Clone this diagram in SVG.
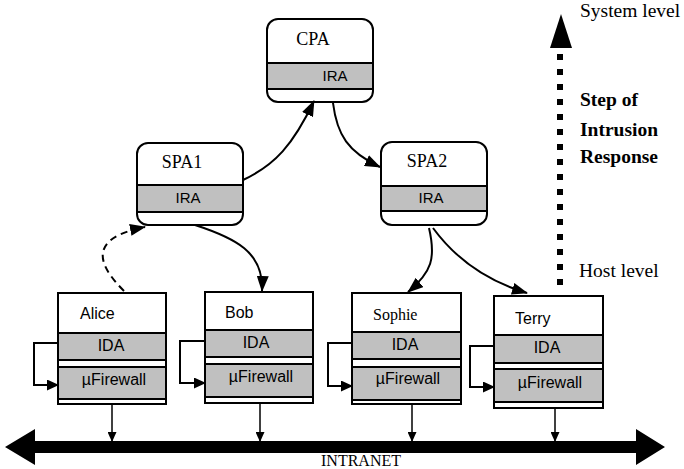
<svg xmlns="http://www.w3.org/2000/svg" width="684" height="469" viewBox="0 0 684 469">
<defs>
<style>
.box{fill:#fff;stroke:#000;stroke-width:2}
.band{fill:#c0c0c0;stroke:#000;stroke-width:2}
.serif{font-family:"Liberation Serif","Times New Roman",serif;fill:#000}
.sans{font-family:"Liberation Sans",Arial,sans-serif;fill:#000}
.nm{font-size:18px;text-anchor:middle}
.ira{font-size:15px;text-anchor:middle}
.hn{font-size:16px}
.ag{font-size:16px;text-anchor:middle}
.con{fill:none;stroke:#000;stroke-width:2}
.thin{fill:none;stroke:#000;stroke-width:1.5}
.lbl{font-size:19.5px}
</style>
<marker id="ah" markerWidth="16" markerHeight="12" refX="15" refY="6" orient="auto" markerUnits="userSpaceOnUse">
<path d="M0,0 L16,6 L0,12 Z" fill="#000"/>
</marker>
<marker id="sh" markerWidth="12" markerHeight="11" refX="11" refY="5.5" orient="auto" markerUnits="userSpaceOnUse">
<path d="M0,0 L12,5.5 L0,11 Z" fill="#000"/>
</marker>
<marker id="dh" markerWidth="10" markerHeight="9" refX="9" refY="4.5" orient="auto" markerUnits="userSpaceOnUse">
<path d="M0,0 L10,4.5 L0,9 Z" fill="#000"/>
</marker>
</defs>

<g id="CPA">
<rect class="box" x="267" y="19" width="106" height="83" rx="11"/>
<rect class="band" x="267" y="63" width="106" height="26"/>
<text class="serif nm" x="313" y="45">CPA</text>
<text class="sans ira" x="335" y="81">IRA</text>
</g>
<g id="SPA1">
<rect class="box" x="137" y="143" width="106" height="82" rx="11"/>
<rect class="band" x="137" y="185" width="106" height="27"/>
<text class="serif nm" x="182" y="168">SPA1</text>
<text class="sans ira" x="188" y="203">IRA</text>
</g>
<g id="SPA2">
<rect class="box" x="381" y="142" width="106" height="83" rx="11"/>
<rect class="band" x="381" y="186" width="106" height="25"/>
<text class="serif nm" x="427" y="167">SPA2</text>
<text class="sans ira" x="431" y="203">IRA</text>
</g>

<g id="Alice">
<rect class="box" x="58" y="293" width="108" height="111"/>
<rect class="band" x="58" y="333" width="108" height="27"/>
<rect class="band" x="58" y="367" width="108" height="32"/>
<text class="sans hn" x="80" y="319">Alice</text>
<text class="sans ag" x="111" y="351">IDA</text>
<text class="sans ag" x="114" y="385">µFirewall</text>
</g>
<g id="Bob">
<rect class="box" x="205" y="292" width="108" height="111"/>
<rect class="band" x="205" y="330" width="108" height="27"/>
<rect class="band" x="205" y="364" width="108" height="33"/>
<text class="sans hn" x="225" y="318">Bob</text>
<text class="sans ag" x="256" y="348">IDA</text>
<text class="sans ag" x="261" y="382">µFirewall</text>
</g>
<g id="Sophie">
<rect class="box" x="352" y="293" width="109" height="111"/>
<rect class="band" x="352" y="332" width="109" height="27"/>
<rect class="band" x="352" y="367" width="109" height="33"/>
<text class="serif" x="373" y="320" font-size="16">Sophie</text>
<text class="sans ag" x="405" y="350">IDA</text>
<text class="sans ag" x="408" y="384">µFirewall</text>
</g>
<g id="Terry">
<rect class="box" x="494" y="296" width="109" height="112"/>
<rect class="band" x="494" y="335" width="109" height="28"/>
<rect class="band" x="494" y="369" width="109" height="33"/>
<text class="sans hn" x="515" y="324">Terry</text>
<text class="sans ag" x="547" y="353">IDA</text>
<text class="sans ag" x="550" y="388">µFirewall</text>
</g>

<g id="INTRANET">
<polygon points="5,447 35,429 35,441 636,441 636,429 665,447 636,465 636,453 35,453 35,465" fill="#000"/>
<text class="serif" x="361" y="466" font-size="16" text-anchor="middle">INTRANET</text>
</g>

<g id="levels">
<line x1="560" y1="285" x2="560" y2="52" stroke="#000" stroke-width="6" stroke-dasharray="6 9"/>
<polygon points="561,14 550,48 572,48" fill="#000"/>
<text class="serif lbl" x="580" y="17">System level</text>
<text class="serif lbl" x="580" y="106" font-weight="bold">Step of</text>
<text class="serif lbl" x="580" y="136" font-weight="bold">Intrusion</text>
<text class="serif lbl" x="580" y="163" font-weight="bold">Response</text>
<text class="serif lbl" x="579" y="277">Host level</text>
</g>

<g id="connectors">
<path class="con" d="M243,180 C275,165 293,145 314,101" marker-end="url(#ah)"/>
<path class="con" d="M333,103 C337,135 348,152 380,167" marker-end="url(#ah)"/>
<path class="con" d="M195,225 C235,238 264,252 262,291" marker-end="url(#ah)"/>
<path class="con" d="M124,291 C95,262 90,238 145,227" stroke-dasharray="7 5" marker-end="url(#ah)"/>
<path class="con" d="M429,228 C436,258 432,272 408,292" marker-end="url(#ah)"/>
<path class="con" d="M433,228 C458,262 490,282 527,293" marker-end="url(#ah)"/>

<path class="con" d="M58,343 H34 V385 H58" marker-end="url(#sh)"/>
<path class="con" d="M205,341 H180 V383 H205" marker-end="url(#sh)"/>
<path class="con" d="M352,343 H328 V386 H352" marker-end="url(#sh)"/>
<path class="con" d="M494,346 H470 V387 H494" marker-end="url(#sh)"/>

<path class="thin" d="M112,404 V441" marker-end="url(#dh)"/>
<path class="thin" d="M260,403 V441" marker-end="url(#dh)"/>
<path class="thin" d="M412,404 V441" marker-end="url(#dh)"/>
<path class="thin" d="M555,408 V441" marker-end="url(#dh)"/>
</g>
</svg>
